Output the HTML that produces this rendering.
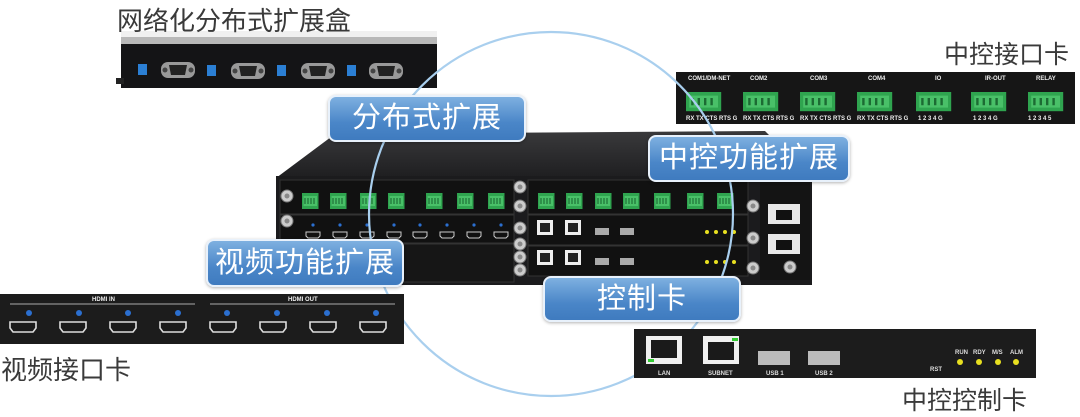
<!DOCTYPE html>
<html><head><meta charset="utf-8"><style>
html,body{margin:0;padding:0;background:#fff;width:1080px;height:414px;overflow:hidden}
svg{display:block}
text{font-family:"Liberation Sans","Noto Sans CJK SC",sans-serif}
.lbl{position:absolute;border:2px solid #e8f1fb;border-radius:8px;background:linear-gradient(#7eb0e0,#4a86c8 60%,#3f7bbf);color:#fff;font-family:"Liberation Sans","Noto Sans CJK SC",sans-serif;font-size:29px;text-align:center;box-shadow:0 1px 3px rgba(0,0,0,.3);box-sizing:border-box;letter-spacing:1px}
.cap{position:absolute;font-family:"Liberation Sans","Noto Sans CJK SC",sans-serif;color:#3a3a3a;font-size:25px;white-space:nowrap}
</style></head><body>
<svg width="1080" height="414" viewBox="0 0 1080 414" xmlns="http://www.w3.org/2000/svg">
<defs>
<linearGradient id="top" x1="0" y1="0" x2="0" y2="1"><stop offset="0" stop-color="#3a3a3c"/><stop offset="1" stop-color="#1e1e20"/></linearGradient>
<g id="term"><rect width="22" height="16" fill="#2fa44f"/><rect x="2" y="3" width="18" height="10" fill="#49c068"/><path d="M4 5v6M8 5v6M12 5v6M16 5v6" stroke="#1c6b33" stroke-width="1.5"/></g>
<g id="hdmi"><path d="M0 0h26v6l-3 4h-20l-3-4z" fill="#1a1a1a" stroke="#ddd" stroke-width="1.6"/></g>
<g id="sm_hdmi"><path d="M0 0h14v4l-2 2h-10l-2-2z" fill="#111" stroke="#ccc" stroke-width="1"/></g>
<g id="screw"><circle r="6" fill="#ccc" stroke="#777"/><circle r="2.5" fill="#888"/></g>
<g id="db9"><rect x="-17" y="-8" width="34" height="16" rx="7" fill="#999"/><circle cx="-13" cy="0" r="2.5" fill="#444"/><circle cx="13" cy="0" r="2.5" fill="#444"/><path d="M-9 -5h18l-2 10h-14z" fill="#222"/></g>
</defs>

<!-- network expansion box -->
<rect x="121" y="31" width="316" height="6" fill="#f0f0f0"/>
<rect x="121" y="37" width="316" height="7" fill="#b8b8b8"/>
<rect x="121" y="44" width="316" height="44" fill="#141416"/>
<rect x="116" y="78" width="8" height="6" fill="#222"/>
<g fill="#2b7fd4"><rect x="138" y="64" width="9" height="11"/><rect x="207" y="65" width="9" height="11"/><rect x="277" y="65" width="9" height="11"/><rect x="347" y="65" width="9" height="11"/></g>
<use href="#db9" x="178" y="70"/><use href="#db9" x="248" y="71"/><use href="#db9" x="318" y="71"/><use href="#db9" x="386" y="71"/>

<!-- control interface card (top right) -->
<rect x="676" y="72" width="399" height="52" fill="#161616"/>
<g fill="#eee" font-size="6" font-weight="bold">
<text x="688" y="80">COM1/DM-NET</text><text x="750" y="80">COM2</text><text x="810" y="80">COM3</text><text x="868" y="80">COM4</text><text x="935" y="80">IO</text><text x="985" y="80">IR-OUT</text><text x="1036" y="80">RELAY</text>
<text x="686" y="120">RX TX CTS RTS G</text><text x="743" y="120">RX TX CTS RTS G</text><text x="800" y="120">RX TX CTS RTS G</text><text x="857" y="120">RX TX CTS RTS G</text><text x="918" y="120">1 2 3 4 G</text><text x="973" y="120">1 2 3 4 G</text><text x="1028" y="120">1 2 3 4 5</text>
</g>
<g transform="translate(686 92) scale(1.6 1.2)"><use href="#term"/></g>
<g transform="translate(743 92) scale(1.6 1.2)"><use href="#term"/></g>
<g transform="translate(800 92) scale(1.6 1.2)"><use href="#term"/></g>
<g transform="translate(857 92) scale(1.6 1.2)"><use href="#term"/></g>
<g transform="translate(916 92) scale(1.6 1.2)"><use href="#term"/></g>
<g transform="translate(971 92) scale(1.6 1.2)"><use href="#term"/></g>
<g transform="translate(1028 92) scale(1.6 1.2)"><use href="#term"/></g>

<!-- main chassis -->
<polygon points="276,178 335,134 765,131 812,178" fill="url(#top)"/>
<rect x="276" y="176" width="536" height="109" fill="#1b1b1d"/>
<rect x="280" y="180" width="234" height="34" fill="#111" stroke="#333"/>
<rect x="280" y="215" width="234" height="28" fill="#111" stroke="#333"/>
<rect x="280" y="244" width="234" height="38" fill="#161616" stroke="#333"/>
<rect x="528" y="180" width="220" height="34" fill="#111" stroke="#333"/>
<rect x="528" y="215" width="220" height="30" fill="#111" stroke="#333"/>
<rect x="528" y="246" width="220" height="30" fill="#111" stroke="#333"/>
<rect x="760" y="180" width="50" height="100" fill="#141414"/>
<g><rect x="768" y="204" width="32" height="20" fill="#e8e8e8"/><rect x="776" y="210" width="16" height="10" fill="#111"/>
<rect x="768" y="234" width="32" height="20" fill="#e8e8e8"/><rect x="776" y="240" width="16" height="10" fill="#111"/></g>
<use href="#screw" x="287" y="196"/><use href="#screw" x="287" y="221"/><use href="#screw" x="520" y="187"/><use href="#screw" x="520" y="206"/><use href="#screw" x="520" y="228"/><use href="#screw" x="520" y="244"/><use href="#screw" x="520" y="257"/><use href="#screw" x="520" y="270"/><use href="#screw" x="753" y="206"/><use href="#screw" x="753" y="238"/><use href="#screw" x="753" y="268"/><use href="#screw" x="790" y="267"/>
<g transform="translate(302 193) scale(0.75 1)"><use href="#term"/></g>
<g transform="translate(330 193) scale(0.75 1)"><use href="#term"/></g>
<g transform="translate(360 193) scale(0.75 1)"><use href="#term"/></g>
<g transform="translate(388 193) scale(0.75 1)"><use href="#term"/></g>
<g transform="translate(426 193) scale(0.75 1)"><use href="#term"/></g>
<g transform="translate(457 193) scale(0.75 1)"><use href="#term"/></g>
<g transform="translate(488 193) scale(0.75 1)"><use href="#term"/></g>
<g transform="translate(538 193) scale(0.75 1)"><use href="#term"/></g>
<g transform="translate(566 193) scale(0.75 1)"><use href="#term"/></g>
<g transform="translate(595 193) scale(0.75 1)"><use href="#term"/></g>
<g transform="translate(623 193) scale(0.75 1)"><use href="#term"/></g>
<g transform="translate(654 193) scale(0.75 1)"><use href="#term"/></g>
<g transform="translate(687 193) scale(0.75 1)"><use href="#term"/></g>
<g transform="translate(717 193) scale(0.75 1)"><use href="#term"/></g>
<g fill="#2b6fd0"><circle cx="313" cy="225" r="1.6"/><circle cx="340" cy="225" r="1.6"/><circle cx="367" cy="225" r="1.6"/><circle cx="394" cy="225" r="1.6"/><circle cx="420" cy="225" r="1.6"/><circle cx="447" cy="225" r="1.6"/><circle cx="474" cy="225" r="1.6"/><circle cx="501" cy="225" r="1.6"/></g>
<use href="#sm_hdmi" x="306" y="232"/><use href="#sm_hdmi" x="333" y="232"/><use href="#sm_hdmi" x="360" y="232"/><use href="#sm_hdmi" x="387" y="232"/><use href="#sm_hdmi" x="413" y="232"/><use href="#sm_hdmi" x="440" y="232"/><use href="#sm_hdmi" x="467" y="232"/><use href="#sm_hdmi" x="494" y="232"/>
<g fill="#eee"><rect x="537" y="220" width="16" height="15"/><rect x="565" y="220" width="16" height="15"/><rect x="537" y="250" width="16" height="15"/><rect x="565" y="250" width="16" height="15"/></g>
<g fill="#222"><rect x="540" y="223" width="10" height="9"/><rect x="568" y="223" width="10" height="9"/><rect x="540" y="253" width="10" height="9"/><rect x="568" y="253" width="10" height="9"/></g>
<g fill="#aaa"><rect x="595" y="228" width="14" height="7"/><rect x="620" y="228" width="14" height="7"/><rect x="595" y="258" width="14" height="7"/><rect x="620" y="258" width="14" height="7"/></g>
<g fill="#e8e020"><circle cx="707" cy="232" r="2"/><circle cx="716" cy="232" r="2"/><circle cx="725" cy="232" r="2"/><circle cx="734" cy="232" r="2"/><circle cx="707" cy="262" r="2"/><circle cx="716" cy="262" r="2"/><circle cx="725" cy="262" r="2"/><circle cx="734" cy="262" r="2"/></g>

<!-- circle -->
<circle cx="551" cy="214" r="182" fill="none" stroke="#a9cfee" stroke-width="2.2"/>

<!-- video interface card -->
<rect x="0" y="294" width="404" height="50" fill="#1c1c1c"/>
<path d="M10 304h185M210 304h185" stroke="#aaa" stroke-width="1"/>
<g fill="#eee" font-size="6" font-weight="bold"><text x="92" y="301">HDMI IN</text><text x="288" y="301">HDMI OUT</text></g>
<g fill="#2b6fd0"><circle cx="29" cy="313" r="3"/><circle cx="79" cy="313" r="3"/><circle cx="128" cy="313" r="3"/><circle cx="178" cy="313" r="3"/><circle cx="227" cy="313" r="3"/><circle cx="277" cy="313" r="3"/><circle cx="327" cy="313" r="3"/><circle cx="376" cy="313" r="3"/></g>
<g transform="translate(10 322)"><use href="#hdmi"/></g><g transform="translate(60 322)"><use href="#hdmi"/></g><g transform="translate(110 322)"><use href="#hdmi"/></g><g transform="translate(160 322)"><use href="#hdmi"/></g><g transform="translate(210 322)"><use href="#hdmi"/></g><g transform="translate(260 322)"><use href="#hdmi"/></g><g transform="translate(310 322)"><use href="#hdmi"/></g><g transform="translate(360 322)"><use href="#hdmi"/></g>

<!-- control card -->
<rect x="634" y="329" width="402" height="49" fill="#1c1c1c"/>
<rect x="646" y="336" width="36" height="28" fill="#f0f0f0"/><rect x="651" y="340" width="26" height="18" fill="#1a1a1a"/><rect x="648" y="359" width="6" height="3" fill="#3c3"/>
<rect x="703" y="336" width="36" height="28" fill="#f0f0f0"/><rect x="708" y="342" width="26" height="18" fill="#1a1a1a"/><rect x="732" y="338" width="6" height="3" fill="#3c3"/>
<rect x="758" y="351" width="32" height="14" fill="#bbb"/><rect x="808" y="351" width="32" height="14" fill="#bbb"/>
<g fill="#ddd" font-size="6" font-weight="bold"><text x="658" y="375">LAN</text><text x="708" y="375">SUBNET</text><text x="766" y="375">USB 1</text><text x="815" y="375">USB 2</text><text x="930" y="371">RST</text><text x="955" y="354">RUN</text><text x="973" y="354">RDY</text><text x="992" y="354">M/S</text><text x="1010" y="354">ALM</text></g>
<g fill="#e8e020"><circle cx="960" cy="362" r="3"/><circle cx="979" cy="362" r="3"/><circle cx="998" cy="362" r="3"/><circle cx="1016" cy="362" r="3"/></g>
</svg>

<div class="cap" style="left:117px;top:1px;font-size:26px">网络化分布式扩展盒</div>
<div class="cap" style="left:944px;top:35px">中控接口卡</div>
<div class="cap" style="left:1px;top:350px;font-size:26px">视频接口卡</div>
<div class="cap" style="left:902px;top:381px">中控控制卡</div>

<div class="lbl" style="left:328px;top:95px;width:198px;height:47px;line-height:43px">分布式扩展</div>
<div class="lbl" style="left:648px;top:135px;width:202px;height:47px;line-height:43px">中控功能扩展</div>
<div class="lbl" style="left:206px;top:239px;width:198px;height:48px;line-height:44px">视频功能扩展</div>
<div class="lbl" style="left:543px;top:276px;width:198px;height:46px;line-height:42px">控制卡</div>
</body></html>
